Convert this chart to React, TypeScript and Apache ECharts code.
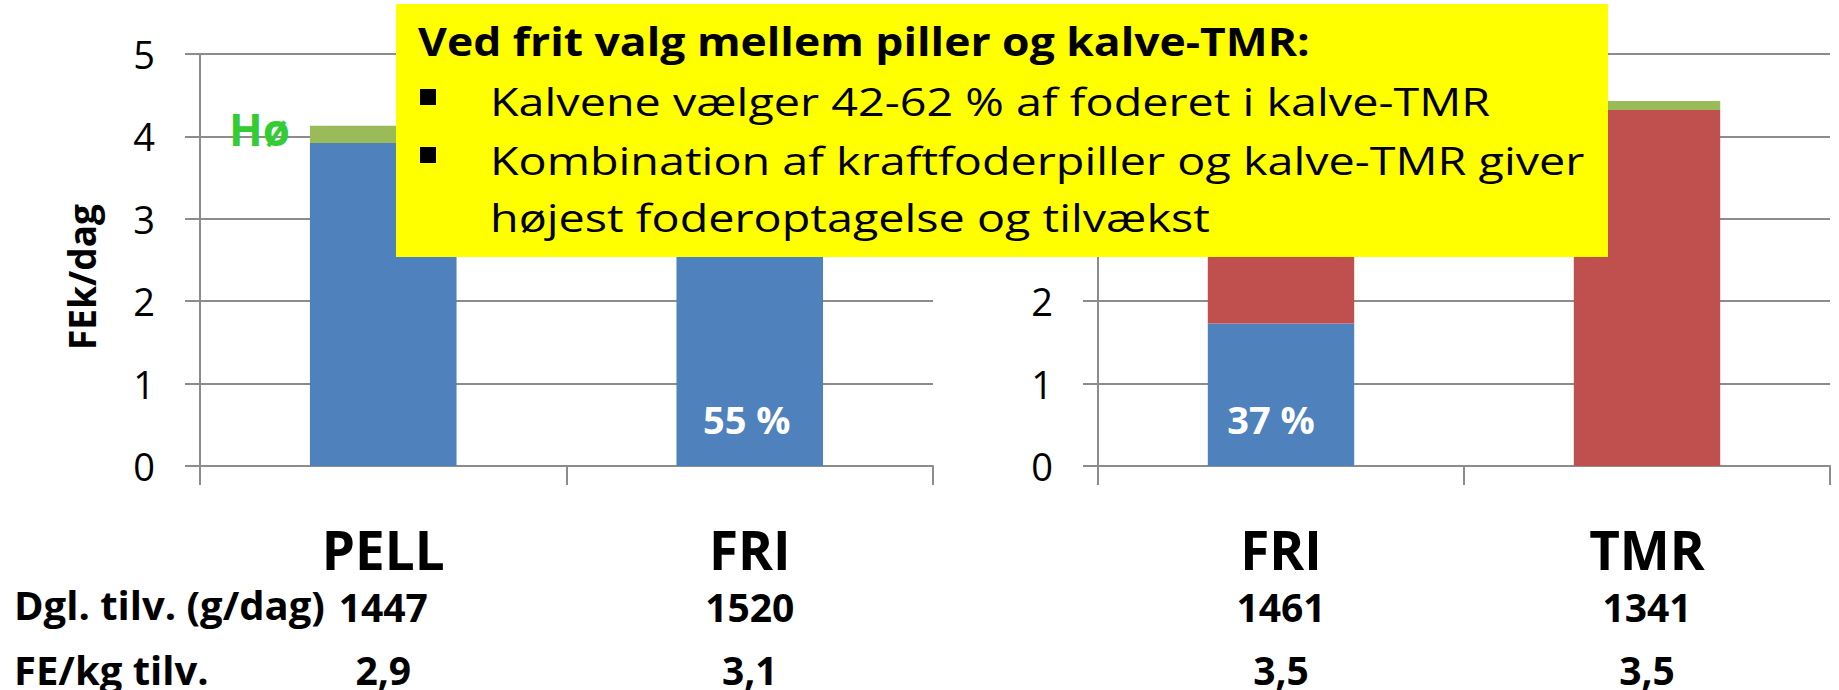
import React, { useEffect, useRef } from "react";
import * as echarts from "echarts";

// ---- data ----
const leftCategories = ["PELL", "FRI"];
const rightCategories = ["FRI", "TMR"];
const leftPiller = [3.92, 2.6];
const leftTmr = [0, 2.0];
const leftHo = [0.21, 0.15];
const rightPiller = [1.73, 0];
const rightTmr = [2.9, 4.32];
const rightHo = [0.15, 0.11];
const leftPillerPct: (number | null)[] = [null, 55];
const rightPillerPct: (number | null)[] = [37, null];
const leftGain = ["1447", "1520"];
const rightGain = ["1461", "1341"];
const leftFePerKg = ["2,9", "3,1"];
const rightFePerKg = ["3,5", "3,5"];
const hoLabel = ["Hø", null];
const rowHeaders = ["Dgl. tilv. (g/dag)", "FE/kg tilv."];
const boxTitle = "Ved frit valg mellem piller og kalve-TMR:";
const boxLines = [
  "Kalvene vælger 42-62 % af foderet i kalve-TMR",
  "Kombination af kraftfoderpiller og kalve-TMR giver",
  "højest foderoptagelse og tilvækst",
];

const FONT = "'Open Sans', 'Noto Sans', sans-serif";
const BLUE = "#4F81BD";
const RED = "#C0504D";
const GREEN = "#9BBB59";
const GRAY = "#8C8C8C";

export default function App() {
  const ref = useRef<HTMLDivElement>(null);
  useEffect(() => {
    if (!ref.current) return;
    const chart = echarts.init(ref.current, undefined, { renderer: "svg" });

    const makeX = (gridIndex: number, cats: string[]) => ({
      type: "category",
      gridIndex,
      data: cats,
      axisLine: { show: true, lineStyle: { color: GRAY, width: 2 } },
      axisTick: { show: true, length: 19, lineStyle: { color: GRAY, width: 2 } },
      axisLabel: {
        interval: 0,
        margin: 56,
        fontFamily: FONT,
        fontSize: 53,
        fontWeight: "bold",
        color: "#000",
        lineHeight: 54,
      },
      splitLine: { show: false },
    });

    const makeRow = (gridIndex: number, vals: string[], margin: number) => ({
      type: "category",
      gridIndex,
      position: "bottom",
      data: vals,
      axisLine: { show: false },
      axisTick: { show: false },
      splitLine: { show: false },
      axisLabel: {
        interval: 0,
        margin,
        fontFamily: FONT,
        fontSize: 39,
        fontWeight: "bold",
        color: "#000",
        lineHeight: 40,
      },
    });

    const makeY = (gridIndex: number, withName: boolean) => ({
      type: "value",
      gridIndex,
      min: 0,
      max: 5,
      interval: 1,
      name: withName ? "FEk/dag" : "",
      nameLocation: "middle",
      nameRotate: 90,
      nameGap: 100,
      nameTextStyle: {
        fontFamily: FONT,
        fontWeight: "bold",
        fontSize: 37,
        color: "#000",
        padding: [0, 34, 0, 0],
      },
      axisLine: { show: true, lineStyle: { color: GRAY, width: 2 } },
      axisTick: { show: true, length: 15, lineStyle: { color: GRAY, width: 2 } },
      axisLabel: { fontFamily: FONT, fontSize: 38, color: "#000", margin: 45 },
      splitLine: { show: true, lineStyle: { color: GRAY, width: 2 } },
    });

    const pctData = (vals: number[], pct: (number | null)[], dx: number) =>
      vals.map((v, i) =>
        pct[i] == null
          ? v
          : {
              value: v,
              label: {
                show: true,
                position: "insideBottom",
                distance: 27,
                offset: [dx, 0],
                formatter: `${pct[i]} %`,
                color: "#fff",
                fontFamily: FONT,
                fontWeight: "bold",
                fontSize: 38,
                lineHeight: 40,
              },
            }
      );

    const hoData = (vals: number[]) =>
      vals.map((v, i) =>
        hoLabel[i] == null
          ? v
          : {
              value: v,
              label: {
                show: true,
                position: "left",
                distance: 20,
                offset: [0, -5],
                formatter: hoLabel[i] as string,
                color: "#33CC33",
                fontFamily: FONT,
                fontWeight: "bold",
                fontSize: 44,
              },
            }
      );

    const bar = (name: string, idx: number, stack: string, color: string, data: any[]) => ({
      type: "bar",
      name,
      xAxisIndex: idx,
      yAxisIndex: idx,
      stack,
      barWidth: "40%",
      itemStyle: { color },
      data,
    });

    const boxX = 396, boxY = 4, boxW = 1212, boxH = 253;
    const textStyle = (text: string, bold: boolean, size: number) => ({
      text,
      fill: "#000",
      fontFamily: FONT,
      fontWeight: bold ? "bold" : "normal",
      fontSize: size,
      verticalAlign: "middle",
      align: "left",
    });

    chart.setOption({
      animation: false,
      backgroundColor: "#fff",
      grid: [
        { left: 200, top: 54, width: 733, height: 412, outerBoundsMode: "none", containLabel: false },
        { left: 1098, top: 54, width: 732, height: 412, outerBoundsMode: "none", containLabel: false },
      ],
      xAxis: [
        makeX(0, leftCategories),
        makeX(1, rightCategories),
        makeRow(0, leftGain, 120),
        makeRow(1, rightGain, 120),
        makeRow(0, leftFePerKg, 183),
        makeRow(1, rightFePerKg, 183),
      ],
      yAxis: [makeY(0, true), makeY(1, false)],
      series: [
        bar("Piller", 0, "L", BLUE, pctData(leftPiller, leftPillerPct, -3)),
        bar("Kalve-TMR", 0, "L", RED, leftTmr),
        bar("Hø", 0, "L", GREEN, hoData(leftHo)),
        bar("Piller", 1, "R", BLUE, pctData(rightPiller, rightPillerPct, -10)),
        bar("Kalve-TMR", 1, "R", RED, rightTmr),
        bar("Hø", 1, "R", GREEN, rightHo),
      ],
      graphic: [
        { type: "text", x: 14, y: 604, z: 100, style: textStyle(rowHeaders[0], true, 40) },
        { type: "text", x: 14, y: 669, z: 100, style: textStyle(rowHeaders[1], true, 40) },
        { type: "rect", z: 100, shape: { x: boxX, y: boxY, width: boxW, height: boxH }, style: { fill: "#FFFF00" } },
        { type: "text", x: 418, y: 41, z: 101, scaleX: 1.14, style: textStyle(boxTitle, true, 39) },
        { type: "rect", z: 101, shape: { x: 420, y: 89, width: 16, height: 16 }, style: { fill: "#000" } },
        { type: "rect", z: 101, shape: { x: 420, y: 147, width: 16, height: 16 }, style: { fill: "#000" } },
        { type: "text", x: 490, y: 101, z: 101, scaleX: 1.23, style: textStyle(boxLines[0], false, 38) },
        { type: "text", x: 490, y: 160, z: 101, scaleX: 1.23, style: textStyle(boxLines[1], false, 38) },
        { type: "text", x: 490, y: 217, z: 101, scaleX: 1.23, style: textStyle(boxLines[2], false, 38) },
      ],
    });
    return () => chart.dispose();
  }, []);
  return (
    <div
      ref={ref}
      style={{ position: "fixed", left: 0, top: 0, width: 1839, height: 690 }}
    />
  );
}
